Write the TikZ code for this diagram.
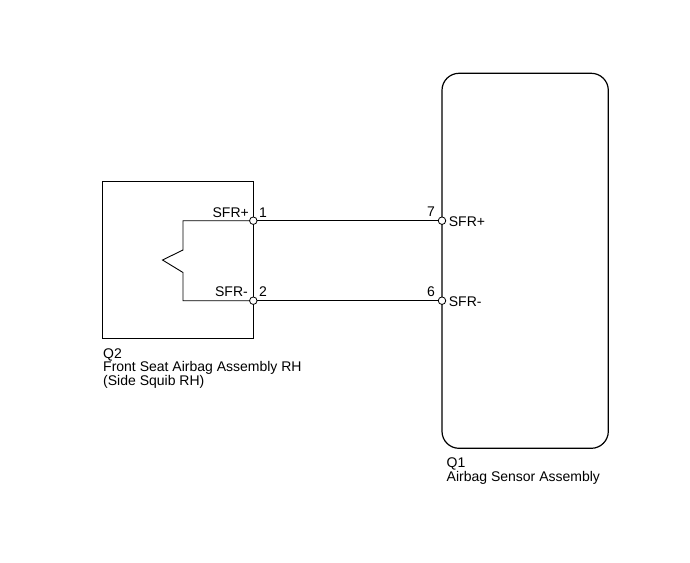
\documentclass[tikz,border=0pt]{standalone}
\usepackage{fontspec}
\setmainfont{Liberation Sans}
\begin{document}
\begin{tikzpicture}[x=1pt,y=-1pt,
  lbl/.style={font=\fontsize{14}{16}\selectfont, inner sep=0pt},
  term/.style={circle, draw, fill=white, line width=0.8pt, minimum size=7.5pt, inner sep=0pt},
  boxline/.style={line width=1.2pt},
  wire/.style={line width=0.9pt}]
\useasboundingbox (0,0) rectangle (690,562);
% left component box
\draw[boxline] (102.7,181.7) rectangle (253.3,338.3);
% right component box
\draw[boxline, rounded corners=17pt] (442,73.3) rectangle (608.3,448.3);
% squib
\coordinate (s1) at (183,220.7);
\coordinate (s2) at (183,300.7);
\draw[wire] (253.3,220.7) -- (s1) -- (183,250) -- (162.5,260) -- (183,272.5) -- (s2) -- (253.3,300.7);
% terminals
\node[term] (t1) at (253.3,220.7) {};
\node[term] (t2) at (253.3,300.7) {};
\node[term] (t7) at (442,220.7) {};
\node[term] (t6) at (442,300.7) {};
% wires
\draw[wire] (t1) -- (t7);
\draw[wire] (t2) -- (t6);
% terminal labels
\node[lbl, anchor=base east] (l1) at (249,217.3) {SFR+};
\node[lbl, anchor=base west] (n1) at (259,217.3) {1};
\node[lbl, anchor=base east] (l2) at (248,296.7) {SFR-};
\node[lbl, anchor=base west] (n2) at (259,296.7) {2};
\node[lbl, anchor=base east] (n7) at (435,216) {7};
\node[lbl, anchor=base west] (r7) at (448.7,226.7) {SFR+};
\node[lbl, anchor=base east] (n6) at (435,296) {6};
\node[lbl, anchor=base west] (r6) at (448.7,306) {SFR-};
% component labels
\node[lbl, anchor=base west] (q2) at (103,358) {Q2};
\node[lbl, anchor=base west] (q2a) at (103,371.7) {Front Seat Airbag Assembly RH};
\node[lbl, anchor=base west] (q2b) at (103,385.2) {(Side Squib RH)};
\node[lbl, anchor=base west] (q1) at (446.5,467) {Q1};
\node[lbl, anchor=base west] (q1a) at (446.5,481.2) {Airbag Sensor Assembly};
\end{tikzpicture}
\end{document}
